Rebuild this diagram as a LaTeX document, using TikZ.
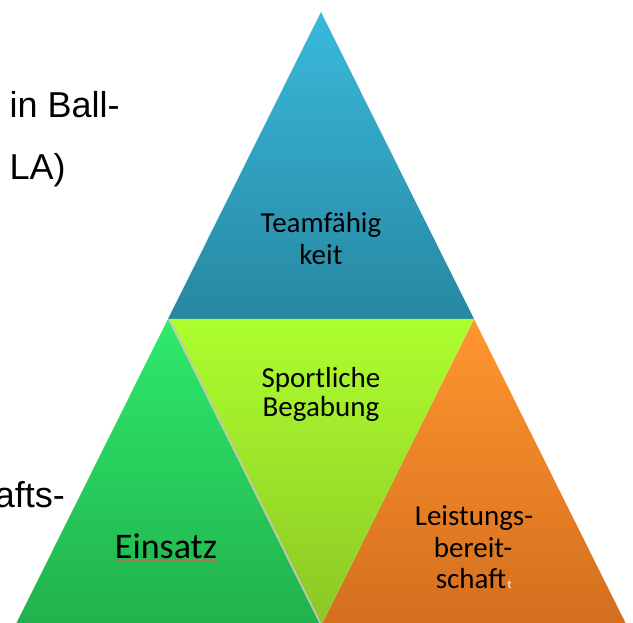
\documentclass[tikz,border=0pt]{standalone}
\usepackage{fontspec}
\setmainfont{Carlito}
\newfontfamily\arialf{Liberation Sans}
\definecolor{topT}{HTML}{3AB9DB}
\definecolor{topB}{HTML}{2787A1}
\definecolor{grT}{HTML}{2EEA6C}
\definecolor{grB}{HTML}{21B14C}
\definecolor{yeT}{HTML}{ADFF2F}
\definecolor{yeB}{HTML}{8CC624}
\definecolor{orT}{HTML}{FF962F}
\definecolor{orB}{HTML}{D46E1E}
\definecolor{seamc}{HTML}{C4C4C4}
\definecolor{ulc}{HTML}{9C7C58}
\begin{document}
\begin{tikzpicture}[x=1pt,y=-1pt,
  lbl/.style={inner sep=0pt, anchor=base, font=\fontsize{29}{32}\selectfont},
  big/.style={inner sep=0pt, anchor=base, font=\fontsize{36}{40}\selectfont},
  side/.style={inner sep=0pt, anchor=base west, font=\arialf\fontsize{36}{40}\selectfont},
  seam/.style={draw=seamc, line width=1.6pt},
  uline/.style={draw=ulc, line width=1.2pt}]
\useasboundingbox (0,0) rectangle (633,623);
\clip (0,0) rectangle (633,623);
\fill[white] (0,0) rectangle (633,623);
% vertices
\coordinate (A) at (321,12);
\coordinate (L) at (168,319);
\coordinate (R) at (474,319);
\coordinate (BL) at (15,626);
\coordinate (BM) at (321,626);
\coordinate (BR) at (627,626);
% triangles
\shade[top color=topT, bottom color=topB] (A) -- (L) -- (R) -- cycle;
\shade[top color=grT, bottom color=grB] (L) -- (BL) -- (BM) -- cycle;
\shade[top color=orT, bottom color=orB] (R) -- (BM) -- (BR) -- cycle;
\shade[top color=yeT, bottom color=yeB] (L) -- (R) -- (BM) -- cycle;
\draw[seam] ([xshift=1.2pt]L) -- ([xshift=0.8pt]BM);
% side texts
\node[side] (s1) at (9.5,118) {in Ball-};
\node[side] (s2) at (9.4,180) {LA)};
\node[side] (s3) at (-5.4,507) {afts-};
% triangle labels
\node[lbl] (tf1) at (321,233) {Teamfähig};
\node[lbl] (tf2) at (321,265) {keit};
\node[lbl] (sb1) at (321,388) {Sportliche};
\node[lbl] (sb2) at (321,417) {Begabung};
\node[big] (ein) at (166,558) {Einsatz};
\draw[uline] ([yshift=-3pt]ein.base west) -- ([yshift=-3pt]ein.base east);
\node[lbl] (lb1) at (474,525) {Leistungs-};
\node[lbl] (lb2) at (473,557) {bereit-};
\node[lbl] (lb3) at (471,588) {schaft};
\node[inner sep=0pt, anchor=base west, text=white, font=\fontsize{12}{14}\selectfont] (lbt) at ([xshift=1pt]lb3.base east) {t};
\end{tikzpicture}
\end{document}
